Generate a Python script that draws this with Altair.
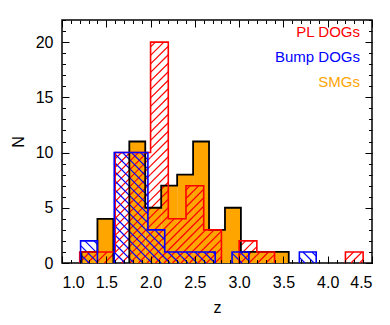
import altair as alt
import pandas as pd
import numpy as np

# ---- data (histogram counts) ----
smg_start, smg_width = 1.22, 0.18
smg_counts = [1, 4, 0, 11, 5, 7, 8, 11, 3, 5, 1, 1, 1]

bump_start, bump_width = 1.21, 0.19
bump_counts = [2, 0, 10, 10, 3, 1, 1, 1, 0, 1, 0, 0, 0, 1]

pl_start, pl_width = 1.20, 0.20
pl_counts = [1, 1, 10, 10, 20, 4, 7, 3, 0, 2, 1, 0, 0, 0, 0, 1]

x_major = [1.0, 1.5, 2.0, 2.5, 3.0, 3.5, 4.0, 4.5]
x_minor = [round(1.0 + 0.1 * i, 2) for i in range(36)]
y_major = [0, 5, 10, 15, 20]
y_minor = list(range(0, 23))
legend_labels = ["PL DOGs", "Bump DOGs", "SMGs"]

X_DOMAIN = [1.0, 4.5]
Y_DOMAIN = [0, 22]
W, H = 310, 243
kx = W / (X_DOMAIN[1] - X_DOMAIN[0])
ky = H / (Y_DOMAIN[1] - Y_DOMAIN[0])

RED, BLUE, ORANGE = "#ff0000", "#0000ff", "#ffa500"


def bars(start, width, counts):
    rows = []
    for i, c in enumerate(counts):
        rows.append({"x0": start + i * width, "x1": start + (i + 1) * width, "n": c, "z0": 0})
    return pd.DataFrame(rows)


def outline(start, width, counts):
    rows = []
    run = 0
    seq = 0
    prev_zero = True
    for i, c in enumerate(counts):
        x0 = start + i * width
        x1 = x0 + width
        if c == 0:
            if not prev_zero:
                rows.append({"x": x0, "y": 0, "run": run, "o": seq}); seq += 1
                run += 1
            prev_zero = True
            continue
        if prev_zero:
            rows.append({"x": x0, "y": 0, "run": run, "o": seq}); seq += 1
        rows.append({"x": x0, "y": c, "run": run, "o": seq}); seq += 1
        rows.append({"x": x1, "y": c, "run": run, "o": seq}); seq += 1
        prev_zero = False
    if not prev_zero:
        xe = start + len(counts) * width
        rows.append({"x": xe, "y": 0, "run": run, "o": seq})
    return pd.DataFrame(rows)


def hatch(start, width, counts, slope, spacing):
    segs = []
    for i, c in enumerate(counts):
        if c == 0:
            continue
        X0 = (start + i * width - X_DOMAIN[0]) * kx
        X1 = X0 + width * kx
        Hh = c * ky
        if slope > 0:
            bmin, bmax = -X1, Hh - X0
        else:
            bmin, bmax = X0, X1 + Hh
        k0 = int(np.floor(bmin / spacing))
        k1 = int(np.ceil(bmax / spacing))
        for k in range(k0, k1 + 1):
            b = k * spacing
            if slope > 0:
                xa, xb = max(X0, -b), min(X1, Hh - b)
            else:
                xa, xb = max(X0, b - Hh), min(X1, b)
            if xb - xa <= 0.5:
                continue
            ya = slope * xa + b
            yb = slope * xb + b
            segs.append({"xa": X_DOMAIN[0] + xa / kx, "xb": X_DOMAIN[0] + xb / kx,
                         "ya": ya / ky, "yb": yb / ky})
    return pd.DataFrame(segs)


xs = alt.Scale(domain=X_DOMAIN, nice=False, zero=False)
ys = alt.Scale(domain=Y_DOMAIN, nice=False, zero=False)

FONT_SIZE = 16


def xaxis(orient, values, size, labels=False, title=None):
    kw = dict(orient=orient, values=values, tickSize=size, offset=-size, domain=False,
              grid=False, labels=labels, tickColor="black", tickWidth=1, zindex=1)
    if labels:
        kw.update(format=".1f", labelFontSize=FONT_SIZE, labelPadding=11, labelColor="black",
                  title=title, titleFontSize=FONT_SIZE, titleFontWeight="normal",
                  titlePadding=9, titleColor="black")
    else:
        kw.update(title=None)
    return alt.Axis(**kw)


def yaxis(orient, values, size, labels=False, title=None):
    kw = dict(orient=orient, values=values, tickSize=size, offset=-size, domain=False,
              grid=False, labels=labels, tickColor="black", tickWidth=1, zindex=1)
    if labels:
        kw.update(format="d", labelFontSize=FONT_SIZE, labelPadding=9, labelColor="black",
                  title=title, titleFontSize=FONT_SIZE, titleFontWeight="normal",
                  titlePadding=9, titleColor="black")
    else:
        kw.update(title=None)
    return alt.Axis(**kw)


smg_df = bars(smg_start, smg_width, smg_counts)
smg_df = smg_df[smg_df.n > 0]

smg_fill = alt.Chart(smg_df).mark_rect(fill=ORANGE, strokeWidth=0).encode(
    x=alt.X("x0:Q", scale=xs, axis=xaxis("bottom", x_major, 7, labels=True, title="z")),
    x2="x1:Q",
    y=alt.Y("n:Q", scale=ys, axis=yaxis("left", y_major, 7, labels=True, title="N")),
    y2="z0:Q",
)

red_hatch = alt.Chart(hatch(pl_start, pl_width, pl_counts, 1, 8.5)).mark_rule(
    color=RED, strokeWidth=1.2).encode(
    x=alt.X("xa:Q", scale=xs, axis=xaxis("top", x_major, 7)),
    x2="xb:Q",
    y=alt.Y("ya:Q", scale=ys, axis=yaxis("right", y_major, 7)),
    y2="yb:Q",
)

blue_hatch = alt.Chart(hatch(bump_start, bump_width, bump_counts, -1, 9.0)).mark_rule(
    color=BLUE, strokeWidth=1.2).encode(
    x=alt.X("xa:Q", scale=xs, axis=xaxis("bottom", x_minor, 3.5)),
    x2="xb:Q",
    y=alt.Y("ya:Q", scale=ys, axis=yaxis("left", y_minor, 3.5)),
    y2="yb:Q",
)

smg_line = alt.Chart(outline(smg_start, smg_width, smg_counts)).mark_line(
    color="black", strokeWidth=1.8, strokeJoin="miter").encode(
    x=alt.X("x:Q", scale=xs, axis=xaxis("top", x_minor, 3.5)),
    y=alt.Y("y:Q", scale=ys, axis=yaxis("right", y_minor, 3.5)),
    detail="run:N",
    order="o:Q",
)


def colored_outline(start, width, counts, color):
    return alt.Chart(outline(start, width, counts)).mark_line(
        color=color, strokeWidth=1.6, strokeJoin="miter").encode(
        x=alt.X("x:Q", scale=xs, axis=None),
        y=alt.Y("y:Q", scale=ys, axis=None),
        detail="run:N",
        order="o:Q",
    )


red_line = colored_outline(pl_start, pl_width, pl_counts, RED)
blue_line = colored_outline(bump_start, bump_width, bump_counts, BLUE)

legend_colors = [RED, BLUE, ORANGE]
legend_y = [17, 42, 67]
texts = []
for lab, col, yy in zip(legend_labels, legend_colors, legend_y):
    texts.append(
        alt.Chart(pd.DataFrame({"t": [lab]})).mark_text(
            align="right", baseline="alphabetic", fontSize=15, color=col).encode(
            text="t:N", x=alt.value(298), y=alt.value(yy))
    )

chart = alt.layer(
    smg_fill, red_hatch, blue_hatch, smg_line, red_line, blue_line, *texts
).resolve_scale(x="shared", y="shared").resolve_axis(
    x="independent", y="independent"
).properties(
    width=W, height=H,
    autosize=alt.AutoSizeParams(type="none"),
    padding={"left": 54, "top": 12, "right": 10, "bottom": 54},
).configure(font="Liberation Sans").configure_view(
    stroke="black", strokeWidth=1.5
)

chart.save("out.html", embed_options={"renderer": "svg", "actions": False})
